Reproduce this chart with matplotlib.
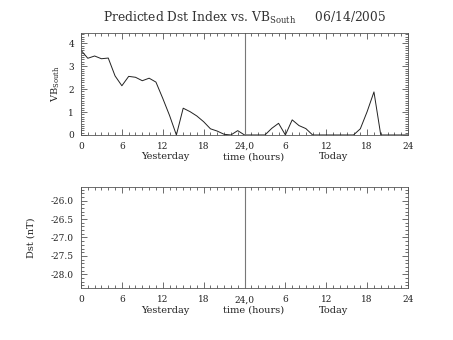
import matplotlib
matplotlib.use("Agg")
import matplotlib.pyplot as plt
from matplotlib.ticker import MultipleLocator, FixedLocator

plt.rcParams['font.family'] = 'DejaVu Serif'
plt.rcParams['mathtext.fontset'] = 'dejavuserif'

# hours since start of yesterday (0..48)
hours = list(range(49))
vb_south = [3.70, 3.35, 3.45, 3.33, 3.36, 2.58, 2.15, 2.56, 2.52, 2.37,
            2.48, 2.31, 1.60, 0.85, 0.00, 1.17, 1.02, 0.83, 0.58, 0.27,
            0.17, 0.03, 0.00, 0.19, 0.00, 0.00, 0.00, 0.00, 0.29, 0.51,
            0.00, 0.66, 0.41, 0.28, 0.00, 0.00, 0.00, 0.00, 0.00, 0.00,
            0.00, 0.27, 1.02, 1.88, 0.00, 0.00, 0.00, 0.00, 0.00]
xtick_pos = [0, 6, 12, 18, 24, 30, 36, 42, 48]
xtick_labels = ['0', '6', '12', '18', '24,0', '6', '12', '18', '24']
dst_ticks = [-26.0, -26.5, -27.0, -27.5, -28.0]

fig = plt.figure(figsize=(4.53, 3.40), dpi=100)
ax1 = fig.add_axes([0.1788, 0.603, 0.7219, 0.299])
ax2 = fig.add_axes([0.1788, 0.152, 0.7219, 0.299])

lc = '#333333'


def style(ax):
    ax.set_xlim(0, 48)
    ax.xaxis.set_major_locator(FixedLocator(xtick_pos))
    ax.set_xticklabels(xtick_labels)
    ax.xaxis.set_minor_locator(MultipleLocator(1))
    ax.tick_params(which='both', direction='in', top=True, right=True,
                   labelsize=6.5, colors=lc, labelcolor='#222222', width=0.5)
    ax.tick_params(which='major', length=4, pad=5)
    ax.tick_params(which='minor', length=2)
    for s in ax.spines.values():
        s.set_linewidth(0.6)
        s.set_color('#555555')
    ax.axvline(24, color='#777777', lw=0.8)
    tr = ax.get_xaxis_transform()
    ax.text(12.4, -0.215, 'Yesterday', transform=tr,
            ha='center', va='center', fontsize=7, color='#222222')
    ax.text(25.3, -0.215, 'time (hours)', transform=tr,
            ha='center', va='center', fontsize=7, color='#222222')
    ax.text(37.1, -0.215, 'Today', transform=tr,
            ha='center', va='center', fontsize=7, color='#222222')


# VB south panel
ax1.plot(hours, vb_south, color='#222222', lw=0.7)
style(ax1)
ax1.set_ylim(0, 4.44)
ax1.yaxis.set_major_locator(MultipleLocator(1))
ax1.yaxis.set_minor_locator(MultipleLocator(0.1))
ax1.set_ylabel(r'VB$_{\rm South}$', fontsize=7, color='#222222')
ax1.yaxis.set_label_coords(-0.058, 0.5)
ax1.set_title(r'Predicted Dst Index vs. VB$_{\rm South}$     06/14/2005',
              fontsize=8.8, color='#333333', pad=8)

# Dst panel
style(ax2)
ax2.set_ylim(-28.38, -25.62)
ax2.yaxis.set_major_locator(FixedLocator(dst_ticks))
ax2.set_yticklabels(['%.1f' % v for v in dst_ticks])
ax2.yaxis.set_minor_locator(MultipleLocator(0.1))
ax2.set_ylabel('Dst (nT)', fontsize=7, color='#222222')
ax2.yaxis.set_label_coords(-0.14, 0.5)

fig.savefig('out.png', dpi=100)
